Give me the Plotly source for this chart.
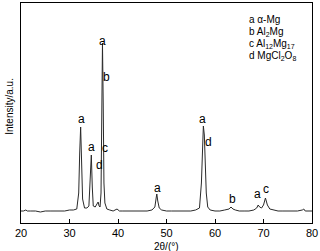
import plotly.graph_objects as go

# 2theta (deg) and intensity (a.u.)
two_theta = [20.0, 20.5, 21.0, 21.3, 22.0, 23.0, 24.0, 25.0, 26.0, 27.0, 28.0, 29.0, 30.0, 30.8, 31.5,
             31.9, 32.1, 32.3, 32.5, 32.7, 33.1, 33.6, 34.0, 34.2, 34.5, 34.7, 34.9, 35.3, 35.7, 35.9,
             36.1, 36.3, 36.5, 36.65, 36.8, 36.95, 37.1, 37.3, 37.7, 38.3, 39.0, 39.8, 40.3, 41.0, 42.0,
             43.0, 44.0, 45.0, 46.0, 47.0, 47.6, 47.9, 48.0, 48.2, 48.5, 49.0, 50.0, 51.0, 52.0, 53.0,
             54.0, 55.0, 56.0, 56.8, 57.2, 57.4, 57.6, 57.8, 58.0, 58.2, 58.5, 59.0, 60.0, 61.0, 62.0,
             62.9, 63.3, 63.7, 64.2, 65.0, 66.0, 67.0, 68.0, 68.6, 68.9, 69.2, 69.6, 70.0, 70.4, 70.8,
             71.3, 72.0, 73.0, 74.0, 75.0, 76.0, 77.0, 78.0, 78.3, 78.6, 79.0, 80.0]
intensity = [12, 12, 13, 12, 12, 12, 11, 12, 12, 12, 12, 12, 13, 13, 14,
             30, 70, 96, 60, 24, 15, 15, 17, 40, 68, 36, 17, 16, 19, 21,
             17, 16, 30, 110, 180, 120, 40, 20, 14, 13, 12, 14, 12, 12, 12,
             12, 12, 12, 12, 13, 16, 26, 29, 22, 15, 13, 12, 12, 12, 12,
             12, 12, 13, 15, 40, 80, 97, 88, 60, 30, 16, 13, 12, 12, 13,
             14, 16, 14, 13, 12, 12, 12, 13, 15, 18, 16, 15, 18, 25, 18,
             14, 13, 12, 12, 12, 12, 12, 13, 14, 12, 12, 12]

# peak labels: (2theta, intensity, text)
label_x = [32.4, 34.6, 36.1, 37.3, 36.9, 37.7, 48.2, 57.5, 58.6, 63.7, 68.7, 70.5]
label_y = [104, 76, 58, 75, 182, 146, 35, 104, 81, 24, 29, 34]
label_text = ["a", "a", "d", "c", "a", "b", "a", "a", "d", "b", "a", "c"]

legend_lines = ["a α-Mg", "b Al<sub>2</sub>Mg", "c Al<sub>12</sub>Mg<sub>17</sub>",
                "d MgCl<sub>2</sub>O<sub>8</sub>"]

x_ticks = [20, 30, 40, 50, 60, 70, 80]

FONT = "Arial, Liberation Sans, sans-serif"

fig = go.Figure()
fig.add_trace(go.Scatter(x=two_theta, y=intensity, mode="lines",
                         line=dict(color="#2a2a2a", width=1), showlegend=False,
                         hoverinfo="skip"))

for xv, yv, t in zip(label_x, label_y, label_text):
    fig.add_annotation(x=xv, y=yv, text=t, showarrow=False,
                       font=dict(family=FONT, size=12, color="black"))

for i, t in enumerate(legend_lines):
    fig.add_annotation(x=0.775, y=0.925 - i * 0.055, xref="paper", yref="paper", text=t,
                       showarrow=False, xanchor="left", yanchor="middle",
                       font=dict(family=FONT, size=10, color="black"))

fig.update_layout(
    width=320, height=251,
    margin=dict(l=21, r=8, t=3, b=28, autoexpand=False),
    paper_bgcolor="white", plot_bgcolor="white",
    font=dict(family=FONT, size=11, color="black"),
    xaxis=dict(range=[20, 80], tickvals=x_ticks, ticks="inside", ticklen=4,
               tickcolor="black", showline=True, linecolor="black", linewidth=1,
               mirror=True, showgrid=False, zeroline=False, automargin=False,
               tickfont=dict(family=FONT, size=11)),
    yaxis=dict(range=[0, 220], showticklabels=False, ticks="", showline=True,
               linecolor="black", linewidth=1, mirror=True, showgrid=False,
               zeroline=False, automargin=False),
)
fig.add_annotation(x=-0.04, y=0.53, xref="paper", yref="paper", text="Intensity/a.u.",
                   textangle=-90, showarrow=False, xanchor="center", yanchor="middle",
                   font=dict(family=FONT, size=10, color="black"))
fig.add_annotation(x=0.5, y=-0.108, xref="paper", yref="paper", text="2θ/(°)",
                   showarrow=False, xanchor="center", yanchor="middle",
                   font=dict(family=FONT, size=10, color="black"))

fig.write_html("out.html", config={"displayModeBar": False},
               post_script="document.body.style.margin='0px';")
